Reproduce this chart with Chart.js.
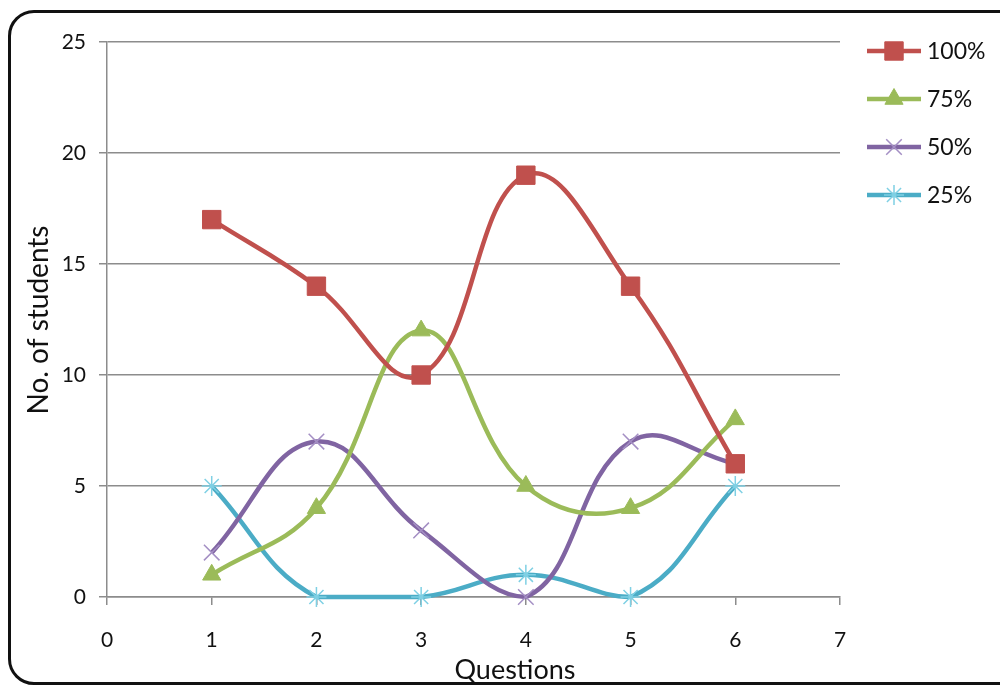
<!DOCTYPE html>
<html>
<head>
<meta charset="utf-8">
<script src="https://cdn.jsdelivr.net/npm/chart.js@4.4.1/dist/chart.umd.min.js"></script>
<style>
  html, body { margin: 0; padding: 0; background: #fff; overflow: hidden; }
  #wrap { position: relative; width: 1000px; height: 690px; }
  #frame {
    position: absolute; left: 8px; top: 10px; width: 1020px; height: 675px;
    border: 3px solid #111; border-radius: 26px; box-sizing: border-box;
  }
  canvas { position: absolute; left: 0; top: 0; }
</style>
</head>
<body>
<div id="wrap">
  <div id="frame"></div>
  <canvas id="c" width="1000" height="690"></canvas>
</div>
<script>
// Questions answered and number of students per score band
const questions = [1, 2, 3, 4, 5, 6];
const score100 = [17, 14, 10, 19, 14, 6];
const score75 = [1, 4, 12, 5, 4, 8];
const score50 = [2, 7, 3, 0, 7, 6];
const score25 = [5, 0, 0, 1, 0, 5];
const seriesNames = ['100%', '75%', '50%', '25%'];
const xTicks = [0, 1, 2, 3, 4, 5, 6, 7];
const yTicks = [0, 5, 10, 15, 20, 25];

const FONT = 'Lato, "Open Sans", sans-serif';
const TEXT = '#111111';
const GRID = '#8c8c8c';

const styles = [
  { line: '#C0504D', fill: '#C0504D', stroke: '#C0504D', shape: 'rect', radius: 13, bw: 1 },
  { line: '#9BBB59', fill: '#9BBB59', stroke: '#9BBB59', shape: 'triangle', radius: 10.5, bw: 1 },
  { line: '#8064A2', fill: '#A48FC4', stroke: '#A48FC4', shape: 'crossRot', radius: 11, bw: 1.5 },
  { line: '#4BACC6', fill: '#7FD0E4', stroke: '#7FD0E4', shape: 'star', radius: 10, bw: 1.5 }
];
const values = [score100, score75, score50, score25];

const datasets = values.map((vals, i) => ({
  label: seriesNames[i],
  data: questions.map((q, k) => ({ x: q, y: vals[k] })),
  borderColor: styles[i].line,
  borderWidth: 4.5,
  backgroundColor: styles[i].fill,
  pointStyle: styles[i].shape,
  pointRadius: styles[i].radius,
  pointBackgroundColor: styles[i].fill,
  pointBorderColor: styles[i].stroke,
  pointBorderWidth: styles[i].bw,
  tension: 0.42,
  clip: false
}));

// Legend on the right and the two axis titles
const decorations = {
  id: 'decorations',
  afterDraw(chart) {
    const ctx = chart.ctx;
    ctx.save();
    const x0 = 867, x1 = 921, ys = [51, 99, 147, 195];
    datasets.forEach((ds, i) => {
      const y = ys[i];
      ctx.strokeStyle = ds.borderColor;
      ctx.lineWidth = 4.5;
      ctx.beginPath(); ctx.moveTo(x0, y); ctx.lineTo(x1, y); ctx.stroke();
      ctx.fillStyle = ds.pointBackgroundColor;
      ctx.strokeStyle = ds.pointBorderColor;
      ctx.lineWidth = ds.pointBorderWidth;
      Chart.helpers.drawPoint(ctx, {
        pointStyle: ds.pointStyle, radius: ds.pointRadius, rotation: 0,
        borderWidth: ds.pointBorderWidth
      }, (x0 + x1) / 2, y);
      ctx.fillStyle = TEXT;
      ctx.font = '23px ' + FONT;
      ctx.textAlign = 'left';
      ctx.textBaseline = 'middle';
      ctx.fillText(ds.label, x1 + 6, y + 1);
    });
    ctx.fillStyle = TEXT;
    ctx.font = '27px ' + FONT;
    ctx.textAlign = 'center';
    ctx.textBaseline = 'alphabetic';
    ctx.fillText('Questions', 515, 679);
    ctx.translate(48, 320);
    ctx.rotate(-Math.PI / 2);
    ctx.font = '28px ' + FONT;
    ctx.fillText('No. of students', 0, 0);
    ctx.restore();
  }
};

new Chart(document.getElementById('c'), {
  type: 'line',
  data: { datasets },
  options: {
    responsive: false,
    animation: false,
    layout: { padding: { left: 20, top: 42, right: 160, bottom: 10 } },
    plugins: { legend: { display: false }, tooltip: { enabled: false } },
    scales: {
      x: {
        type: 'linear', min: 0, max: 7,
        afterBuildTicks(s) { s.ticks = xTicks.map(v => ({ value: v })); },
        afterFit(s) { s.height = 83; },
        grid: { drawOnChartArea: false, drawTicks: true, tickLength: 8, color: GRID, lineWidth: 1.5 },
        border: { color: GRID, width: 1.5 },
        ticks: { color: TEXT, font: { family: FONT, size: 21 }, padding: 23 }
      },
      y: {
        min: 0, max: 25,
        afterBuildTicks(s) { s.ticks = yTicks.map(v => ({ value: v })); },
        afterFit(s) { s.width = 87; },
        grid: { color: GRID, lineWidth: 1.5, tickLength: 8 },
        border: { color: GRID, width: 1.5 },
        ticks: { color: TEXT, font: { family: FONT, size: 21 }, padding: 13 }
      }
    }
  },
  plugins: [decorations]
});
</script>
</body>
</html>
